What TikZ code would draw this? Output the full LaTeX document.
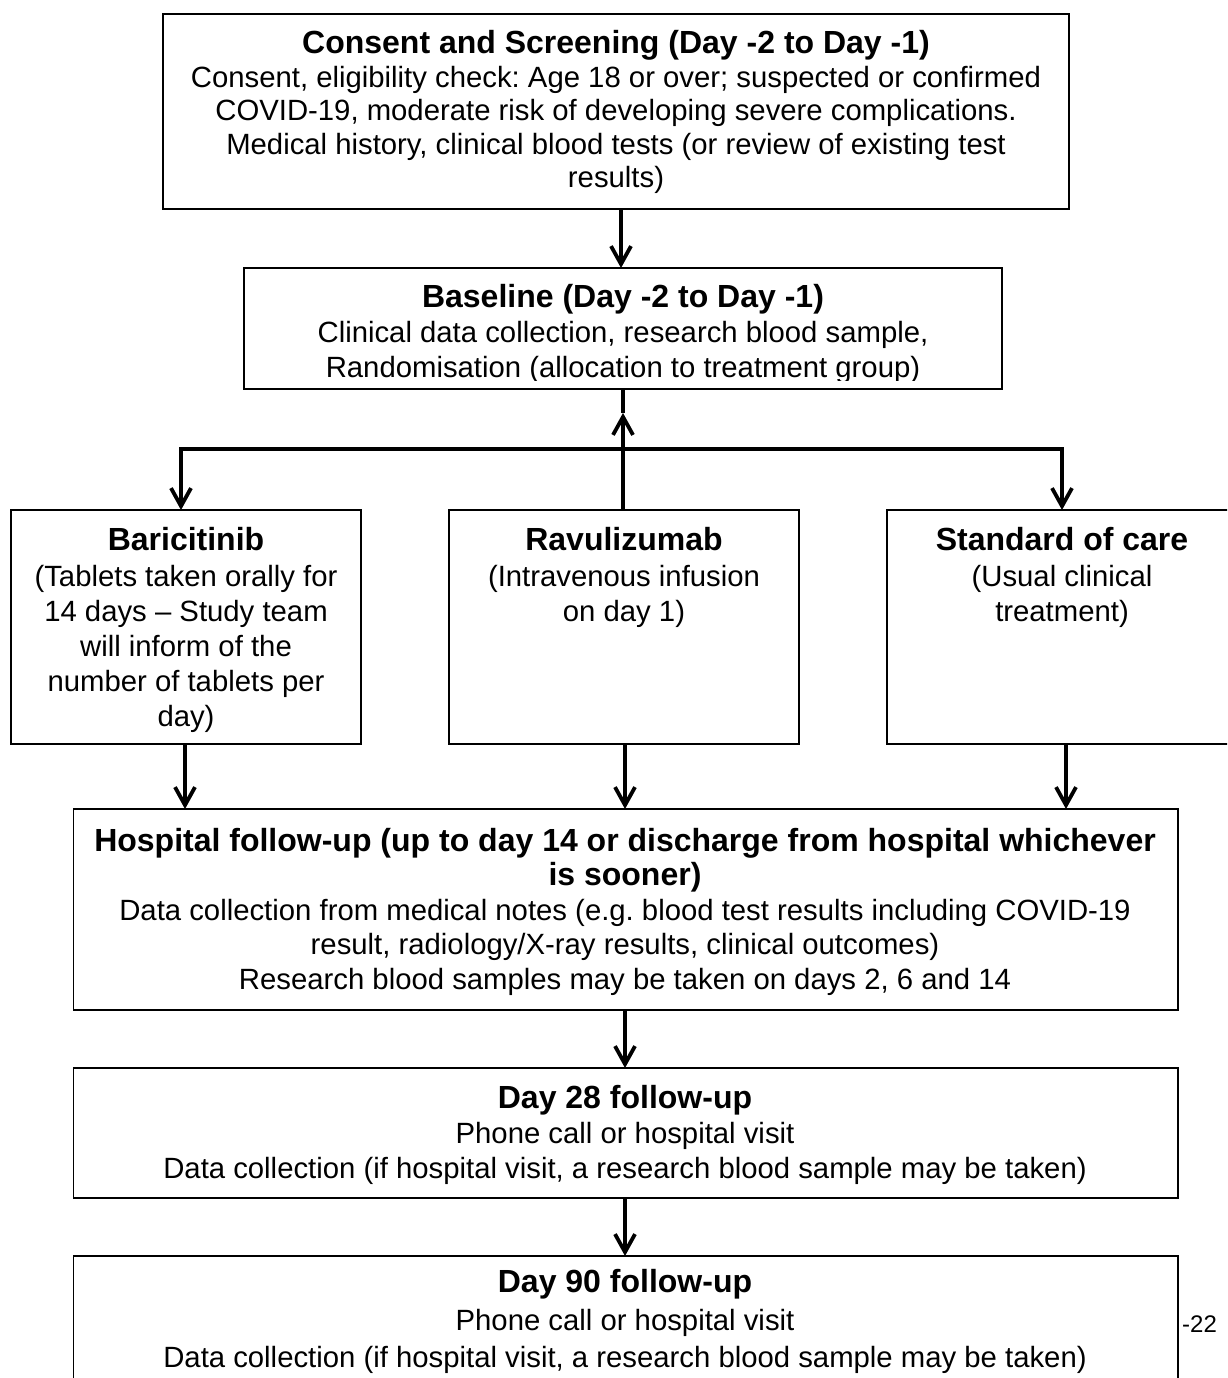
\documentclass[tikz,border=0pt]{standalone}
\usepackage{fontspec}
\setmainfont{Liberation Sans}
\usetikzlibrary{arrows.meta}
\frenchspacing
\newcommand\fsz[1]{\fontsize{29.3}{#1}\selectfont\frenchspacing}
\newcommand\ttl[1]{{\fontsize{32}{35}\selectfont\bfseries #1}}
\begin{document}
\begin{tikzpicture}[x=1pt,y=-1pt,
  box/.style={draw=black, line width=1.6pt, rectangle, inner sep=0pt, outer sep=0pt},
  txt/.style={inner sep=0pt, outer sep=0pt, align=center, anchor=north},
  conn/.style={draw=black, line width=3.8pt},
  arr/.style={conn, -{Straight Barb[length=18pt,width=20pt]}}]
\useasboundingbox (0,0) rectangle (1227,1378);
\fill[white] (0,0) rectangle (1227,1378);
\clip (0,0) rectangle (1227,1378);

% boxes
\node[box, minimum width=906pt, minimum height=195pt] (cons) at (616,111.5) {};
\node[box, minimum width=758pt, minimum height=121pt] (base) at (623,328.5) {};
\node[box, minimum width=350pt, minimum height=234pt] (bar) at (186,627) {};
\node[box, minimum width=350pt, minimum height=234pt] (rav) at (624,627) {};
\node[box, minimum width=350pt, minimum height=234pt] (soc) at (1062,627) {};
\node[box, minimum width=1104.5pt, minimum height=201pt] (hosp) at (625.75,909.5) {};
\node[box, minimum width=1104.5pt, minimum height=130pt] (d28) at (625.75,1133) {};
\node[box, minimum width=1104.5pt, minimum height=144pt] (d90) at (625.75,1328) {};

% texts
\node[txt, font=\fsz{33.5}] (tcons) at (616,30.5) {\strut\ttl{Consent and Screening (Day -2 to Day -1)}\\
Consent, eligibility check: Age 18 or over; suspected or confirmed\\
COVID-19, moderate risk of developing severe complications.\\
Medical history, clinical blood tests (or review of existing test\\
results)};
\begin{scope}
\clip (244,268) rectangle (1002,380);
\node[txt, font=\fsz{35}] (tbase) at (623,282.5) {\strut\ttl{Baseline (Day -2 to Day -1)}\\
Clinical data collection, research blood sample,\\
Randomisation (allocation to treatment group)};
\end{scope}
\node[txt, font=\fsz{35.1}] (tbar) at (186,526.4) {\strut\ttl{Baricitinib}\\(Tablets taken orally for\\14 days – Study team\\will inform of the\\number of tablets per\\day)};
\node[txt, font=\fsz{35.1}] (trav) at (624,526.4) {\strut\ttl{Ravulizumab}\\(Intravenous infusion\\on day 1)};
\node[txt, font=\fsz{35.1}] (tsoc) at (1062,526.4) {\strut\ttl{Standard of care}\\(Usual clinical\\treatment)};
\node[txt, font=\fsz{34.5}] (thosp) at (625,826.9) {\strut\ttl{Hospital follow-up (up to day 14 or discharge from hospital whichever}\\
\ttl{is sooner)}\\
Data collection from medical notes (e.g. blood test results including COVID-19\\
result, radiology/X-ray results, clinical outcomes)\\
Research blood samples may be taken on days 2, 6 and 14};
\node[txt, font=\fsz{35}] (td28) at (625,1083.5) {\strut\ttl{Day 28 follow-up}\\
Phone call or hospital visit\\
Data collection (if hospital visit, a research blood sample may be taken)};
\node[txt, font=\fsz{37.5}] (td90) at (625,1266.7) {\strut\ttl{Day 90 follow-up}\\
Phone call or hospital visit\\
Data collection (if hospital visit, a research blood sample may be taken)};
\node[inner sep=0pt, anchor=base west, font=\fontsize{24}{28}\selectfont] (page) at (1182,1332) {-22};

% helper coordinates
\coordinate (c1) at (621,0);
\coordinate (cm) at (623,0);
\coordinate (uptip) at (623,413);
\coordinate (jc) at (623,449);
\coordinate (jl) at (181,0);
\coordinate (jr) at (1062,0);
\coordinate (bl) at (185,0);
\coordinate (bm) at (625,0);
\coordinate (br) at (1066,0);

% connectors
\draw[arr] (cons.south -| c1) -- (base.north -| c1);
\draw[conn] (base.south -| cm) -- (uptip);
\draw[arr] (rav.north -| cm) -- (uptip);
\draw[arr] (jc) -| (bar.north -| jl);
\draw[arr] (jc) -| (soc.north -| jr);
\draw[arr] (bar.south -| bl) -- (hosp.north -| bl);
\draw[arr] (rav.south -| bm) -- (hosp.north -| bm);
\draw[arr] (soc.south -| br) -- (hosp.north -| br);
\draw[arr] (hosp.south -| bm) -- (d28.north -| bm);
\draw[arr] (d28.south -| bm) -- (d90.north -| bm);
\end{tikzpicture}
\end{document}
